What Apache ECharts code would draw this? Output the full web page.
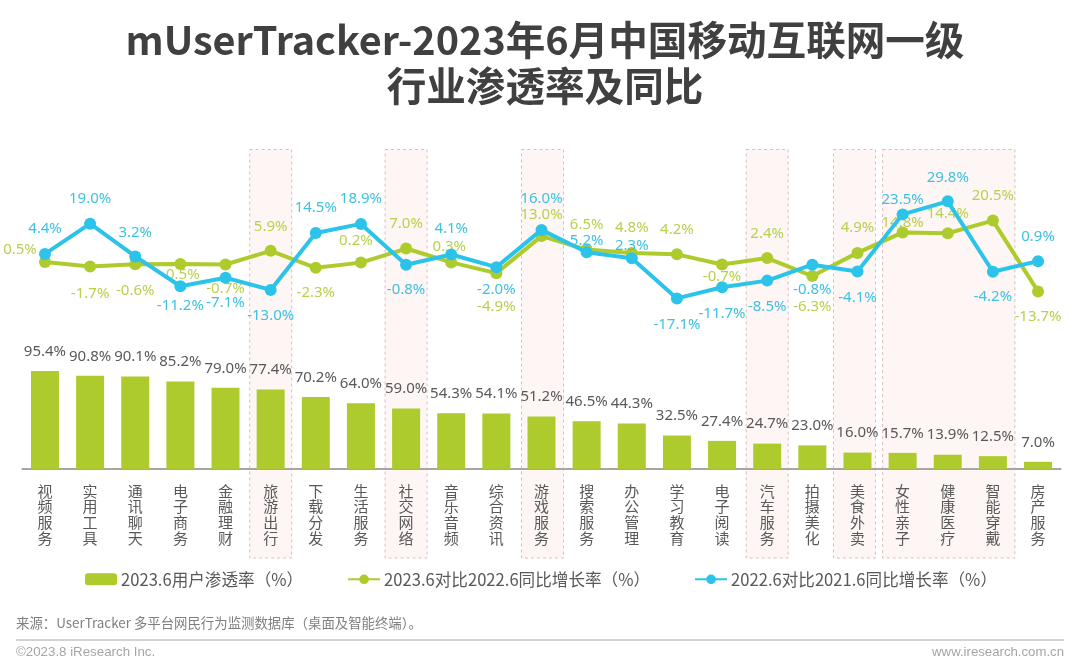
<!DOCTYPE html>
<html>
<head>
<meta charset="utf-8">
<style>
  html, body { margin: 0; padding: 0; background: #fff; }
  #chart { width: 1080px; height: 666px; }
</style>
<script src="https://cdn.jsdelivr.net/npm/echarts@6/dist/echarts.min.js"></script>
</head>
<body>
<div id="chart"></div>
<script>
const categories = ['视频服务', '实用工具', '通讯聊天', '电子商务', '金融理财', '旅游出行', '下载分发', '生活服务',
  '社交网络', '音乐音频', '综合资讯', '游戏服务', '搜索服务', '办公管理', '学习教育', '电子阅读', '汽车服务',
  '拍摄美化', '美食外卖', '女性亲子', '健康医疗', '智能穿戴', '房产服务'];
const penetration = [95.4, 90.8, 90.1, 85.2, 79.0, 77.4, 70.2, 64.0, 59.0, 54.3, 54.1, 51.2, 46.5, 44.3, 32.5, 27.4, 24.7, 23.0, 16.0, 15.7, 13.9, 12.5, 7.0];
const growth2023 = [0.5, -1.7, -0.6, -0.5, -0.7, 5.9, -2.3, 0.2, 7.0, 0.3, -4.9, 13.0, 6.5, 4.8, 4.2, -0.7, 2.4, -6.3, 4.9, 14.8, 14.4, 20.5, -13.7];
const growth2022 = [4.4, 19.0, 3.2, -11.2, -7.1, -13.0, 14.5, 18.9, -0.8, 4.1, -2.0, 16.0, 5.2, 2.3, -17.1, -11.7, -8.5, -0.8, -4.1, 23.5, 29.8, -4.2, 0.9];

// 高亮的行业区间（类目下标）
const highlightRanges = [[5, 5], [8, 8], [11, 11], [16, 16], [18, 18], [19, 21]];
const highlightShifts = [0, 0, 1, 0, -3, 1];

// 折线标签相对数据点的偏移
const greenLabelOffsets = [[-25, -12], [0, 27], [0, 26], [0, 11], [0, 24], [0, -24], [0, 25], [-5, -22], [0, -25], [-2, -16],
  [0, 34], [0, -21], [0, -25], [0, -25], [0, -25], [0, 12], [0, -24], [0, 31], [0, -25], [0, -10], [0, -19], [0, -25], [0, 25]];
const blueLabelOffsets = [[0, -25], [0, -25], [0, -24], [0, 20], [0, 25], [0, 26], [0, -25], [0, -25], [0, 25], [0, -26],
  [0, 23], [0, -31], [0, -12], [0, -13], [0, 26], [0, 26], [0, 26], [0, 25], [0, 26], [0, -15], [0, -24], [0, 25], [0, -24]];

const BAR_GREEN = '#aecb2d';
const LINE_BLUE = '#2cc3ea';
const TEXT_GREEN = '#b9d04e';
const TEXT_BLUE = '#3fc1e2';
const TEXT_GREY = '#595959';
const CJK = '"Noto Sans CJK SC", "Noto Sans", sans-serif';

function percentLabels(values, offsets, color) {
  return values.map((v, i) => ({
    value: v,
    label: {
      show: true,
      position: 'inside',
      offset: offsets[i],
      color: color,
      fontSize: 15,
      fontFamily: '"Noto Sans", sans-serif',
      formatter: v.toFixed(1) + '%'
    }
  }));
}

const chart = echarts.init(document.getElementById('chart'));

chart.setOption({
  animation: false,
  backgroundColor: '#fff',
  title: [
    {
      text: 'mUserTracker-2023年6月中国移动互联网一级',
      left: 540,
      top: 15,
      textAlign: 'center',
      textStyle: { color: '#404040', fontSize: 39.6, fontWeight: 'bold', fontFamily: CJK }
    },
    {
      text: '行业渗透率及同比',
      left: 540,
      top: 61,
      textAlign: 'center',
      textStyle: { color: '#404040', fontSize: 39.6, fontWeight: 'bold', fontFamily: CJK }
    },
    {
      text: '来源：UserTracker 多平台网民行为监测数据库（桌面及智能终端）。',
      left: 11,
      top: 611,
      textStyle: { color: '#7f7f7f', fontSize: 13.4, fontWeight: 'normal', fontFamily: CJK }
    },
    {
      text: '©2023.8 iResearch Inc.',
      left: 11,
      top: 641,
      textStyle: { color: '#a6a6a6', fontSize: 13.3, fontWeight: 'normal', fontFamily: '"Liberation Sans", sans-serif' }
    },
    {
      text: 'www.iresearch.com.cn',
      right: 11,
      top: 641,
      textStyle: { color: '#a6a6a6', fontSize: 13.2, fontWeight: 'normal', fontFamily: '"Liberation Sans", sans-serif' }
    }
  ],
  legend: {
    left: 80,
    top: 566,
    itemWidth: 32,
    itemHeight: 12,
    itemGap: 44,
    data: ['2023.6用户渗透率（%）', '2023.6对比2022.6同比增长率（%）', '2022.6对比2021.6同比增长率（%）'],
    textStyle: { color: TEXT_GREY, fontSize: 16.6, fontFamily: CJK, padding: [0, 0, 0, -1] }
  },
  grid: { left: 22.4, right: 19.4, top: 150, bottom: 197, containLabel: false },
  xAxis: {
    type: 'category',
    data: categories,
    axisLine: { lineStyle: { color: '#a6a6a6', width: 2 } },
    axisTick: { show: false },
    axisLabel: {
      interval: 0,
      margin: 14,
      color: TEXT_GREY,
      fontSize: 15,
      lineHeight: 15.8,
      fontFamily: CJK,
      formatter: name => name.split('').join('\n')
    }
  },
  yAxis: [
    { type: 'value', min: 0, max: 310.6, show: false, splitLine: { show: false } },
    { type: 'value', min: -99.5, max: 54.6, show: false, splitLine: { show: false } }
  ],
  graphic: [
    {
      type: 'line',
      shape: { x1: 16, y1: 640, x2: 1064, y2: 640 },
      style: { stroke: '#a6a6a6', lineWidth: 1 }
    }
  ],
  series: [
    {
      type: 'custom',
      silent: true,
      clip: false,
      z: 0,
      yAxisIndex: 0,
      encode: { x: [0, 1] },
      data: highlightRanges,
      renderItem: (params, api) => {
        const halfBand = 21;
        const shift = highlightShifts[params.dataIndex];
        const x1 = api.coord([api.value(0), 0])[0] - halfBand + shift;
        const x2 = api.coord([api.value(1), 0])[0] + halfBand + shift;
        return {
          type: 'rect',
          shape: { x: x1, y: 149.5, width: x2 - x1, height: 408.5 },
          style: { fill: '#fdf6f5', stroke: '#e3b9c0', lineWidth: 1, lineDash: [3, 3] }
        };
      }
    },
    {
      name: '2023.6用户渗透率（%）',
      type: 'bar',
      yAxisIndex: 0,
      barWidth: 28,
      z: 2,
      itemStyle: { color: BAR_GREEN },
      label: {
        show: true,
        position: 'top',
        distance: 12,
        color: TEXT_GREY,
        fontSize: 15,
        fontFamily: '"Noto Sans", sans-serif',
        formatter: p => p.value.toFixed(1) + '%'
      },
      data: penetration
    },
    {
      name: '2023.6对比2022.6同比增长率（%）',
      type: 'line',
      yAxisIndex: 1,
      z: 3,
      symbol: 'circle',
      symbolSize: 12,
      lineStyle: { color: BAR_GREEN, width: 4 },
      itemStyle: { color: BAR_GREEN },
      data: percentLabels(growth2023, greenLabelOffsets, TEXT_GREEN)
    },
    {
      name: '2022.6对比2021.6同比增长率（%）',
      type: 'line',
      yAxisIndex: 1,
      z: 4,
      symbol: 'circle',
      symbolSize: 12,
      lineStyle: { color: LINE_BLUE, width: 4 },
      itemStyle: { color: LINE_BLUE },
      data: percentLabels(growth2022, blueLabelOffsets, TEXT_BLUE)
    }
  ]
});
</script>
</body>
</html>
